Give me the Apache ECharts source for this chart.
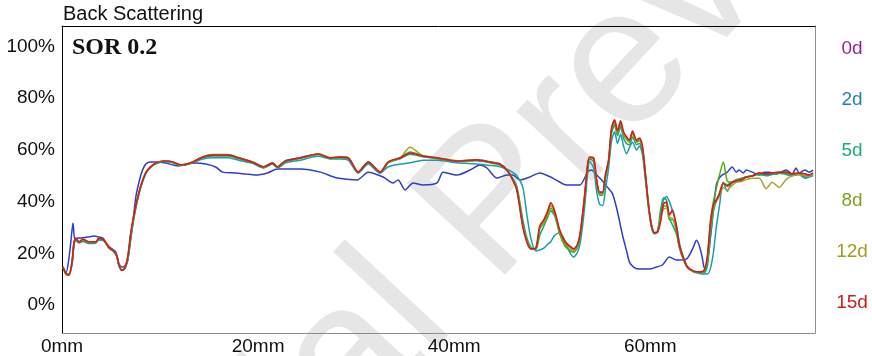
<!DOCTYPE html>
<html>
<head>
<meta charset="utf-8">
<script src="https://cdn.jsdelivr.net/npm/echarts@6/dist/echarts.min.js"></script>
<style>
  html, body { margin: 0; padding: 0; background: #fff; }
  #chart { width: 872px; height: 356px; }
</style>
</head>
<body>
<div id="chart"></div>
<script>
// Positions along the sample (mm) shared by the 2d .. 15d scans
const posMm = [0.10,0.41,0.71,1.02,1.22,1.42,1.73,2.14,2.75,3.46,
  3.76,4.27,4.78,5.29,5.60,5.80,6.10,6.41,6.71,7.02,
  7.43,7.83,8.24,8.65,9.26,9.87,10.58,11.29,12.11,12.72,
  13.33,14.34,15.36,16.99,18.01,19.43,20.55,21.46,21.97,22.79,
  24.31,26.14,27.37,28.38,29.20,30.21,31.23,32.45,33.27,34.49,
  35.50,36.83,38.25,40.29,42.32,43.64,44.66,45.37,45.88,46.39,
  47.00,47.41,47.81,48.32,48.73,49.14,49.54,49.85,50.25,50.76,
  51.27,51.78,52.19,52.59,52.90,53.31,53.61,53.81,54.22,54.53,
  54.83,55.14,55.44,55.75,56.05,56.36,56.66,56.97,57.27,57.58,
  57.88,58.19,58.60,58.90,59.21,59.51,59.82,60.12,60.43,60.73,
  61.04,61.34,61.65,61.95,62.26,62.67,62.97,63.38,63.78,64.40,
  65.01,65.51,65.82,66.12,66.43,66.73,67.04,67.45,67.85,68.26,
  68.77,69.28,69.79,70.40,71.11,71.82,72.43,73.14,73.85,74.47,
  75.18,75.79,76.19,76.60];

// Back scattering (%) per scan
const bs2d = [14.7,12.4,12.0,15.5,23.0,25.0,24.0,24.6,23.8,24.0,
  25.2,24.8,22.0,20.5,18.6,15.5,13.5,14.0,17.5,26.0,
  35.5,42.5,48.0,51.5,54.0,55.0,55.5,55.0,54.0,54.2,
  55.0,56.5,57.0,57.0,56.0,54.8,53.0,54.5,53.0,55.0,
  56.0,57.5,56.5,56.5,56.0,51.0,54.5,51.0,53.5,54.5,
  55.0,56.0,56.0,55.0,54.5,54.0,53.5,52.5,51.5,50.0,
  45.5,35.0,26.0,20.9,21.3,22.0,23.5,24.5,27.0,28.0,
  25.0,20.5,18.6,20.5,25.0,38.0,51.0,55.5,53.0,44.0,
  39.0,38.5,45.0,53.0,63.5,67.0,62.5,66.0,61.5,58.5,
  61.0,63.0,60.0,61.5,58.0,48.0,37.5,30.0,27.5,28.5,
  34.0,40.5,42.0,40.0,36.5,31.0,24.0,18.5,15.0,12.8,
  12.2,12.0,12.0,14.0,20.0,30.0,38.0,47.5,44.0,47.0,
  48.5,49.0,49.5,50.0,50.5,50.0,50.5,51.0,50.5,50.0,
  50.5,49.0,49.5,50.0];

const bs5d = [14.7,12.2,11.8,16.0,23.5,25.5,24.2,25.0,24.0,24.2,
  25.5,25.0,22.2,20.7,18.8,15.5,13.5,14.2,18.2,27.0,
  36.0,43.0,48.2,51.6,54.0,55.2,55.6,55.2,54.2,54.4,
  55.2,57.0,57.6,57.6,56.6,55.0,53.2,54.7,53.2,55.5,
  56.7,58.2,56.7,57.0,56.7,51.3,55.0,51.3,55.0,56.6,
  58.3,57.3,56.6,55.5,55.8,55.0,54.2,52.0,49.5,46.0,
  33.0,26.0,22.5,21.5,27.0,30.5,34.0,36.5,34.5,28.0,
  23.5,21.0,20.5,22.5,28.0,41.0,53.0,56.5,55.5,47.0,
  42.5,42.5,49.5,55.0,66.5,69.5,65.5,69.0,64.5,62.5,
  62.0,65.0,62.0,62.5,59.0,50.0,38.5,31.0,28.0,28.5,
  36.5,41.5,40.5,33.5,31.0,27.5,22.0,17.5,14.5,13.0,
  12.6,12.5,15.0,26.0,36.0,40.0,43.0,47.0,46.5,47.5,
  48.2,48.6,49.5,50.0,50.8,50.2,50.8,51.0,51.0,50.5,
  50.5,49.5,49.8,50.5];

const bs8d = [14.7,12.0,11.7,16.4,23.8,25.6,24.3,25.2,24.2,24.3,
  25.7,25.0,22.3,20.8,18.9,15.5,13.5,14.2,18.4,27.5,
  36.4,43.2,48.3,51.7,54.1,55.3,55.7,55.3,54.2,54.5,
  55.3,57.3,58.2,58.2,57.0,55.4,53.5,55.0,53.5,55.8,
  57.0,58.5,57.0,57.3,57.0,51.5,55.3,51.5,55.3,57.0,
  59.2,57.7,57.0,55.8,56.2,55.4,54.6,52.3,49.3,45.0,
  31.0,25.0,22.0,21.7,29.5,31.5,34.5,37.5,35.0,27.5,
  23.0,21.3,20.5,22.8,28.5,42.0,54.0,57.0,56.5,47.5,
  43.0,43.0,50.0,55.5,67.5,70.5,66.5,70.0,66.0,64.0,
  63.0,66.5,63.0,63.5,60.5,50.0,38.5,30.5,28.0,28.0,
  34.0,38.0,38.5,33.0,33.0,28.5,22.5,17.8,14.5,13.0,
  12.7,13.0,17.0,32.0,40.0,45.0,50.0,55.3,48.0,47.5,
  48.3,48.8,49.5,50.0,51.0,50.5,51.0,51.2,51.0,50.5,
  51.0,50.0,50.0,50.8];

const bs12d = [14.7,12.0,11.6,16.5,24.0,25.8,24.4,25.4,24.3,24.4,
  25.8,25.0,22.4,20.9,19.0,15.5,13.5,14.3,18.5,27.7,
  36.6,43.2,48.4,51.8,54.2,55.3,55.7,55.3,54.2,54.5,
  55.3,57.2,58.0,58.0,56.9,55.3,53.4,54.9,53.4,55.7,
  56.9,58.4,56.9,57.2,56.9,51.4,55.3,51.4,55.3,56.9,
  61.0,57.6,56.9,55.7,56.1,55.3,54.5,52.2,49.2,44.8,
  30.8,24.8,21.8,22.0,30.0,32.5,35.5,38.5,36.0,28.5,
  24.2,22.2,21.2,23.2,29.0,42.5,54.0,57.0,56.5,48.0,
  43.5,43.5,50.5,55.8,68.0,71.0,66.8,70.6,66.5,64.5,
  63.5,67.0,63.5,64.0,60.8,50.2,38.6,30.8,28.0,28.2,
  33.5,37.0,37.5,34.0,33.5,29.5,23.0,18.0,14.6,13.1,
  12.8,13.4,18.0,29.5,37.5,40.0,42.0,45.5,44.5,46.0,
  47.5,47.8,48.5,49.0,49.0,45.0,47.5,45.5,48.5,50.0,
  50.5,50.0,49.8,50.5];

const bs15d = [14.7,12.0,11.6,16.6,24.0,25.9,24.4,25.5,24.4,24.4,
  25.9,25.1,22.4,20.9,19.0,15.5,13.5,14.3,18.6,27.9,
  36.7,43.3,48.4,51.8,54.2,55.3,55.7,55.3,54.2,54.5,
  55.3,57.2,58.0,58.0,56.9,55.3,53.4,54.9,53.4,55.7,
  56.9,58.4,56.9,57.2,56.9,51.4,55.3,51.4,55.3,56.9,
  58.8,57.6,56.9,55.7,56.1,55.3,54.5,52.2,49.1,44.5,
  30.2,24.4,21.7,22.0,30.6,32.9,36.4,39.5,36.4,29.0,
  24.8,22.8,21.7,23.6,29.0,42.5,54.2,57.2,56.9,48.4,
  43.7,43.7,50.7,56.1,68.5,71.6,67.3,71.2,66.9,65.0,
  63.8,67.3,63.8,64.6,61.1,50.3,38.7,30.9,27.9,28.2,
  32.1,39.1,39.8,34.8,36.7,30.2,23.2,18.2,14.7,13.2,
  12.8,13.5,18.6,30.9,38.7,40.6,42.9,47.2,46.0,47.2,
  48.0,48.4,49.5,49.9,51.1,50.7,51.1,51.4,51.4,50.7,
  51.1,50.7,50.3,51.1];

// The 0d scan has its own sampling positions
const posMm0d = [0.10,0.41,0.71,0.92,1.12,1.32,1.63,1.93,2.64,3.26,
  3.76,4.17,4.58,4.98,5.49,5.80,6.10,6.41,6.71,7.02,
  7.22,7.53,7.83,8.14,8.55,9.05,9.56,10.58,11.29,11.90,
  12.72,13.63,14.65,15.67,16.38,17.70,18.72,19.74,20.96,21.97,
  24.31,26.35,28.08,30.11,31.23,32.76,33.77,34.28,34.99,35.81,
  36.83,38.25,38.86,40.29,41.61,42.63,43.34,44.36,45.37,45.98,
  46.69,47.71,48.73,50.05,51.47,52.80,53.61,54.02,54.53,55.14,
  55.54,56.15,56.66,57.17,57.58,57.88,58.29,58.90,59.92,60.63,
  61.24,61.95,62.67,63.68,64.40,64.70,65.01,65.31,65.51,65.82,
  66.22,66.73,67.04,67.35,67.85,68.36,68.77,69.07,69.48,69.79,
  70.40,71.11,71.62,72.12,72.94,73.85,74.47,74.87,75.18,75.79,
  76.19,76.60];
const bs0d = [14.7,12.4,18.2,25.1,31.7,25.1,25.9,25.9,26.3,26.7,
  26.3,25.9,23.6,22.0,20.5,16.2,14.7,15.1,17.4,25.9,
  31.7,41.8,47.2,51.4,54.5,55.3,55.3,54.9,54.2,53.8,
  54.5,54.9,54.5,53.4,51.4,51.1,50.7,50.3,51.1,52.6,
  52.6,51.4,49.1,48.4,51.4,49.5,47.2,48.4,44.5,47.2,
  46.4,47.2,51.4,50.3,52.2,54.2,53.0,49.1,50.3,50.3,
  48.4,49.5,51.1,49.1,46.4,46.4,51.4,52.2,50.3,48.0,
  46.0,43.0,36.0,27.0,21.0,16.6,14.7,13.9,13.9,14.7,
  15.5,18.6,17.4,17.8,22.4,25.1,22.8,18.2,14.3,16.6,
  29.0,46.4,49.1,50.3,51.4,53.4,51.4,52.2,51.1,52.2,
  51.4,50.3,51.4,51.4,50.7,52.2,50.7,53.0,51.1,52.2,
  51.4,52.2];

const xTicks = [0, 20, 40, 60];
const yTicks = [0, 20, 40, 60, 80, 100];
const scanNames = ['0d', '2d', '5d', '8d', '12d', '15d'];
const labelColors = ['#9a1f9c', '#2480b4', '#1fa980', '#7da21f', '#a39b22', '#c8201f'];
const lineColors = ['#2c3fc6', '#1a9fa9', '#1ea674', '#4dad15', '#a8a22c', '#cb2320'];

const scanData = [
  [posMm0d, bs0d], [posMm, bs2d], [posMm, bs5d],
  [posMm, bs8d], [posMm, bs12d], [posMm, bs15d]
];

const chart = echarts.init(document.getElementById('chart'), null, { renderer: 'canvas' });

const FONT = '"Liberation Sans", Arial, sans-serif';
const X_MAX = 76.8, Y_MIN = -10.8, Y_MAX = 107.9;

const series = scanNames.map((name, i) => ({
  name: name,
  type: 'line',
  showSymbol: false,
  symbol: 'none',
  smooth: 0.25,
  animation: false,
  z: 2 + i,
  lineStyle: { color: lineColors[i], width: i === 5 ? 1.7 : 1.5 },
  data: scanData[i][0].map((x, k) => [x, scanData[i][1][k]])
}));

// scan labels stacked down the right margin
const legendTexts = scanNames.map((name, i) => ({
  type: 'text',
  x: 852,
  y: 49 + i * 50.7,
  z: 10,
  style: {
    text: name,
    fill: labelColors[i],
    font: '19px ' + FONT,
    align: 'center',
    verticalAlign: 'middle'
  }
}));

const hiddenAxisParts = {
  axisTick: { show: false }, axisLabel: { show: false }, splitLine: { show: false }
};

chart.setOption({
  animation: false,
  backgroundColor: '#ffffff',
  grid: { left: 62, right: 57, top: 26, bottom: 23, containLabel: false },
  xAxis: [{
    type: 'value', min: 0, max: X_MAX,
    axisLine: { show: true, onZero: false, lineStyle: { color: '#8c8c8c', width: 1 } },
    axisTick: { show: false },
    splitLine: { show: false },
    axisLabel: {
      customValues: xTicks,
      formatter: v => v + 'mm',
      color: '#111', fontSize: 19, fontFamily: FONT, margin: 4
    }
  }, Object.assign({
    type: 'value', position: 'top', min: 0, max: X_MAX,
    axisLine: { show: true, onZero: false, lineStyle: { color: '#000', width: 1 } }
  }, hiddenAxisParts)],
  yAxis: [{
    type: 'value', min: Y_MIN, max: Y_MAX,
    axisLine: { show: true, onZero: false, lineStyle: { color: '#000', width: 1 } },
    axisTick: { show: false },
    splitLine: { show: false },
    axisLabel: {
      customValues: yTicks,
      formatter: v => v + '%',
      color: '#111', fontSize: 19, fontFamily: FONT, margin: 7
    }
  }, Object.assign({
    type: 'value', position: 'right', min: Y_MIN, max: Y_MAX,
    axisLine: { show: true, onZero: false, lineStyle: { color: '#8c8c8c', width: 1 } }
  }, hiddenAxisParts)],
  graphic: [
    {
      type: 'text', x: 546, y: 152, rotation: 47 * Math.PI / 180, z: -10, silent: true,
      style: {
        text: 'Trial Preview', fill: '#e6e6e6',
        font: '195px ' + FONT, align: 'center', verticalAlign: 'middle'
      }
    },
    {
      type: 'text', x: 63, y: 14, z: 10,
      style: { text: 'Back Scattering', fill: '#111', font: '20px ' + FONT, verticalAlign: 'middle' }
    },
    {
      type: 'text', x: 72, y: 48, z: 10,
      style: { text: 'SOR 0.2', fill: '#111', font: 'bold 24px "Liberation Serif", "Times New Roman", serif', verticalAlign: 'middle' }
    }
  ].concat(legendTexts),
  series: series
});
</script>
</body>
</html>
